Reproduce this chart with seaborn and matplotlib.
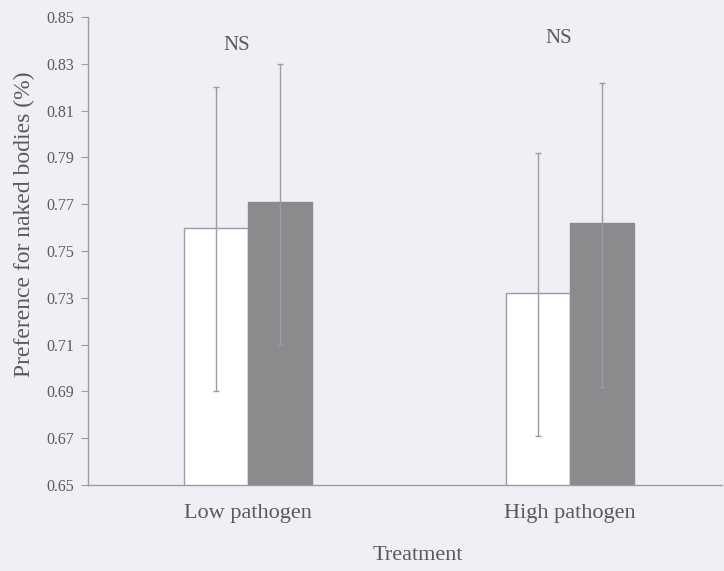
import matplotlib
matplotlib.use("Agg")
import matplotlib.pyplot as plt
import seaborn as sns
import pandas as pd
import numpy as np

treatments = ["Low pathogen", "High pathogen"]
conditions = ["Control", "Primed"]
means = {"Control": [0.760, 0.732], "Primed": [0.771, 0.762]}
lower = {"Control": [0.690, 0.671], "Primed": [0.710, 0.692]}
upper = {"Control": [0.820, 0.792], "Primed": [0.830, 0.822]}
y_ticks = [0.65, 0.67, 0.69, 0.71, 0.73, 0.75, 0.77, 0.79, 0.81, 0.83, 0.85]
annotations = ["NS", "NS"]
annotation_y = [0.838, 0.841]

rows = []
for c in conditions:
    for i, t in enumerate(treatments):
        rows.append({"Treatment": t, "Condition": c, "value": means[c][i]})
df = pd.DataFrame(rows)

sns.set_theme(style="white")
bg = "#eef0f6"
txt = "#5a5a5a"
line = "#9c9ca2"
plt.rcParams["font.family"] = ["Liberation Serif", "DejaVu Serif"]

fig = plt.figure(figsize=(7.24, 5.71), dpi=100, facecolor=bg)
ax = fig.add_axes([88/724, 1-485/571, (722-88)/724, (485-17)/571])
ax.set_facecolor(bg)

sns.barplot(data=df, x="Treatment", y="value", hue="Condition",
            order=treatments, hue_order=conditions,
            palette=["white", "#8b8a8f"], width=0.4, ax=ax,
            edgecolor=line, linewidth=1.0, legend=False, errorbar=None)
for bar in ax.containers[1]:
    bar.set_edgecolor("#8b8a8f")

for ci, c in enumerate(conditions):
    for i, bar in enumerate(ax.containers[ci]):
        xc = bar.get_x() + bar.get_width() / 2
        m = means[c][i]
        ax.errorbar([xc], [m], yerr=[[m - lower[c][i]], [upper[c][i] - m]],
                    fmt="none", ecolor=line, elinewidth=1.0, capsize=2.5,
                    capthick=1.0, zorder=5)

for i, a in enumerate(annotations):
    ax.text(i - 0.035, annotation_y[i], a, ha="center", va="center",
            fontsize=15, color=txt)

ax.set_ylim(0.65, 0.85)
ax.set_xlim(-0.497, 1.472)
ax.set_yticks(y_ticks)
ax.set_yticklabels([f"{v:.2f}" for v in y_ticks], fontsize=11.5, color=txt)
ax.set_xticks([0, 1])
ax.set_xticklabels(treatments, fontsize=16, color=txt)
ax.tick_params(axis="y", direction="out", length=5, width=0.8, color=line, pad=5, left=True)
ax.tick_params(axis="x", length=0, pad=14)
for s in ["top", "right"]:
    ax.spines[s].set_visible(False)
for s in ["left", "bottom"]:
    ax.spines[s].set_color(line)
    ax.spines[s].set_linewidth(1.0)

ax.set_xlabel("")
ax.set_ylabel("")
fig.text(24/724, 1-224/571, "Preference for naked bodies (%)", ha="center", va="center",
         rotation=90, fontsize=17, color=txt)
fig.text(418/724, 1-555/571, "Treatment", ha="center", va="center", fontsize=16, color=txt)

fig.savefig("out.png", dpi=100, facecolor=bg)
